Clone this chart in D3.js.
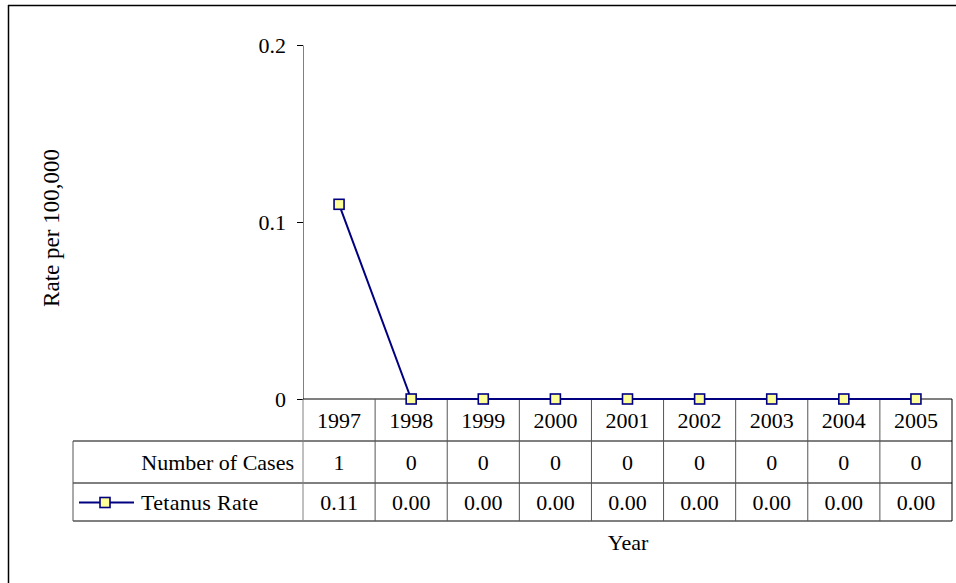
<!DOCTYPE html>
<html>
<head>
<meta charset="utf-8">
<script src="https://cdn.jsdelivr.net/npm/d3@7"></script>
<style>
  html, body { margin: 0; padding: 0; background: #fff; }
  text { font-family: "Liberation Serif", "Times New Roman", Times, serif; fill: #000; }
</style>
</head>
<body>
<svg id="chart" width="956" height="583"></svg>
<script>
// Tetanus cases and rate per 100,000, 1997–2005
const years = ["1997", "1998", "1999", "2000", "2001", "2002", "2003", "2004", "2005"];
const cases = [1, 0, 0, 0, 0, 0, 0, 0, 0];
const rates = [0.11, 0.00, 0.00, 0.00, 0.00, 0.00, 0.00, 0.00, 0.00];
const yTicks = [0, 0.1, 0.2];
const seriesName = "Tetanus Rate";
const casesLabel = "Number of Cases";
const yTitle = "Rate per 100,000";
const xTitle = "Year";

const svg = d3.select("#chart");
const FS = 22;
const lineColor = "#000080";
const markerFill = "#ffff99";

// plot geometry
const plotLeft = 303, plotRight = 952, plotTop = 45, plotBottom = 399;
const tableLeft = 73;
const rowBounds = [399, 441, 483, 521];

// chart frame (top and left edges)
svg.append("line").attr("x1", 8).attr("x2", 956).attr("y1", 5.5).attr("y2", 5.5)
  .attr("stroke", "#000").attr("stroke-width", 1.5);
svg.append("line").attr("x1", 8.5).attr("x2", 8.5).attr("y1", 5).attr("y2", 583)
  .attr("stroke", "#000").attr("stroke-width", 1.5);

const x = d3.scaleBand().domain(years).range([plotLeft, plotRight]);
const y = d3.scaleLinear().domain([0, 0.2]).range([plotBottom, plotTop]);

// y axis
const yAxis = d3.axisLeft(y).tickValues(yTicks).tickFormat(d => d === 0 ? "0" : d3.format(".1f")(d))
  .tickSizeInner(6).tickSizeOuter(0).tickPadding(11);
const gy = svg.append("g").attr("transform", `translate(${plotLeft},0)`).call(yAxis)
  .attr("font-family", null).attr("font-size", null);
gy.select(".domain").attr("stroke", "#808080").attr("stroke-width", 1);
gy.selectAll(".tick line").attr("stroke", "#000");
gy.selectAll(".tick text").attr("font-size", FS).attr("fill", "#000");

// y title
svg.append("text")
  .attr("transform", `translate(${59},${228}) rotate(-90)`)
  .attr("text-anchor", "middle").attr("font-size", 23).text(yTitle);

// data table
const grid = svg.append("g").attr("stroke", "#000").attr("stroke-width", 1);
// horizontal rules
grid.append("line").attr("x1", plotLeft).attr("x2", plotRight).attr("y1", rowBounds[0]).attr("y2", rowBounds[0]);
[1, 2, 3].forEach(i => {
  grid.append("line").attr("x1", tableLeft).attr("x2", plotRight)
    .attr("y1", rowBounds[i]).attr("y2", rowBounds[i]);
});
// vertical rules between categories
years.forEach((yr, i) => {
  const xx = x(yr);
  grid.append("line").attr("x1", xx).attr("x2", xx).attr("y1", rowBounds[0]).attr("y2", rowBounds[3])
    .attr("stroke", i === 0 ? "#808080" : "#555");
});
grid.append("line").attr("x1", plotRight).attr("x2", plotRight).attr("y1", rowBounds[0]).attr("y2", rowBounds[3]);
grid.append("line").attr("x1", tableLeft).attr("x2", tableLeft).attr("y1", rowBounds[1]).attr("y2", rowBounds[3]).attr("stroke", "#555");

const cellMid = i => (rowBounds[i] + rowBounds[i + 1]) / 2;
const cx = d => x(d) + x.bandwidth() / 2;

svg.append("g").selectAll("text").data(years).join("text")
  .attr("x", cx).attr("y", cellMid(0)).attr("dy", "0.35em")
  .attr("text-anchor", "middle").attr("font-size", FS).text(d => d);
svg.append("g").selectAll("text").data(cases).join("text")
  .attr("x", (d, i) => cx(years[i])).attr("y", cellMid(1)).attr("dy", "0.35em")
  .attr("text-anchor", "middle").attr("font-size", FS).text(d => d);
svg.append("g").selectAll("text").data(rates).join("text")
  .attr("x", (d, i) => cx(years[i])).attr("y", cellMid(2)).attr("dy", "0.35em")
  .attr("text-anchor", "middle").attr("font-size", FS).text(d => d3.format(".2f")(d));

// row headers
svg.append("text").attr("x", plotLeft - 9).attr("y", cellMid(1)).attr("dy", "0.35em")
  .attr("text-anchor", "end").attr("font-size", FS).text(casesLabel);
svg.append("text").attr("x", 141).attr("y", cellMid(2)).attr("dy", "0.35em")
  .attr("font-size", FS).attr("letter-spacing", 0.3).text(seriesName);

// legend key
const ly = cellMid(2) + 0.5;
svg.append("line").attr("x1", 79).attr("x2", 134).attr("y1", ly).attr("y2", ly)
  .attr("stroke", lineColor).attr("stroke-width", 2);
svg.append("rect").attr("x", 105 - 5).attr("y", ly - 5).attr("width", 10).attr("height", 10)
  .attr("fill", markerFill).attr("stroke", lineColor).attr("stroke-width", 1.6);

// x title
svg.append("text").attr("x", 628).attr("y", 542).attr("dy", "0.35em")
  .attr("text-anchor", "middle").attr("font-size", FS).text(xTitle);

// series line and markers
const line = d3.line().x((d, i) => cx(years[i])).y(d => y(d));
svg.append("path").datum(rates).attr("d", line)
  .attr("fill", "none").attr("stroke", lineColor).attr("stroke-width", 2);
svg.append("g").selectAll("rect").data(rates).join("rect")
  .attr("x", (d, i) => cx(years[i]) - 5).attr("y", d => y(d) - 5)
  .attr("width", 10).attr("height", 10)
  .attr("fill", markerFill).attr("stroke", lineColor).attr("stroke-width", 1.6);
</script>
</body>
</html>
